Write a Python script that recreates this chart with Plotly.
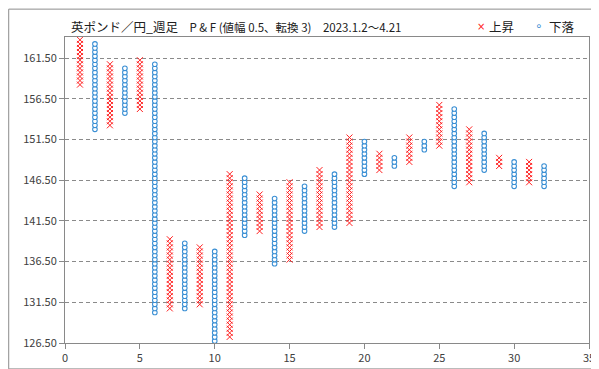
import numpy as np
import plotly.graph_objects as go

# Point & Figure columns (box 0.5, reversal 3)
col_index = list(range(1, 33))
col_type = ["X", "O"] * 16
col_low = [158.25, 152.75, 153.25, 154.75, 155.25, 130.25, 130.75, 130.75, 131.25, 126.75,
           127.25, 139.75, 140.25, 136.25, 136.75, 140.25, 140.75, 140.75, 141.25, 147.25,
           147.75, 148.25, 148.75, 150.25, 150.75, 145.75, 146.25, 147.75, 148.25, 145.75,
           146.25, 145.75]
col_high = [163.75, 163.25, 160.75, 160.25, 161.25, 160.75, 139.25, 138.75, 138.25, 137.75,
            147.25, 146.75, 144.75, 144.25, 146.25, 145.75, 147.75, 147.25, 151.75, 151.25,
            149.75, 149.25, 151.75, 151.25, 155.75, 155.25, 152.75, 152.25, 149.25, 148.75,
            148.75, 148.25]
box_size = 0.5
y_ticks = [126.5, 131.5, 136.5, 141.5, 146.5, 151.5, 156.5, 161.5]
x_ticks = [0, 5, 10, 15, 20, 25, 30, 35]

xs = {"X": [], "O": []}
ys = {"X": [], "O": []}
for c, t, lo, hi in zip(col_index, col_type, col_low, col_high):
    vals = np.arange(lo, hi + box_size / 2, box_size)
    xs[t].extend([c] * len(vals))
    ys[t].extend(vals.tolist())

RED = "#FF2020"
BLUE = "#3A8FD4"

fig = go.Figure()
fig.add_trace(go.Scatter(
    x=xs["X"], y=ys["X"], mode="markers", name="上昇",
    marker=dict(symbol="x-thin", size=6, line=dict(color=RED, width=1.0), color=RED),
    cliponaxis=True,
))
fig.add_trace(go.Scatter(
    x=xs["O"], y=ys["O"], mode="markers", name="下落",
    marker=dict(symbol="circle", size=4.6, color="white", line=dict(color=BLUE, width=1.1)),
    cliponaxis=True,
))

L, R, T, B = 57, 16, 29, 27
W, H = 599, 369
pw, ph = W - L - R, H - T - B


def px_to_paper_x(px):
    return (px - L) / pw


def px_to_paper_y(py):
    return (H - B - py) / ph


font_jp = "Noto Sans CJK JP, Noto Sans, sans-serif"
axis_color = "#898989"

fig.update_layout(
    width=W, height=H,
    margin=dict(l=L, r=R, t=T, b=B),
    paper_bgcolor="white", plot_bgcolor="white",
    showlegend=False,
    font=dict(family=font_jp, size=11, color="#404040"),
    xaxis=dict(
        range=[0, 35], tickvals=x_ticks, showgrid=False, zeroline=False,
        showline=True, linecolor=axis_color, linewidth=1, mirror=True,
        ticks="outside", ticklen=5, tickcolor=axis_color,
        tickfont=dict(size=11, color="#404040"),
    ),
    yaxis=dict(
        range=[126.5, 164.1], tickvals=y_ticks, tickformat=".2f",
        showgrid=True, gridcolor="#8a8a8a", griddash="4px,3px", gridwidth=1,
        zeroline=False, showline=True, linecolor=axis_color, linewidth=1, mirror=True,
        ticks="outside", ticklen=5, tickcolor=axis_color,
        tickfont=dict(size=11, color="#404040"),
    ),
)

annotations = [
    dict(text="<span style='font-size:12.5px'>英ポンド／円_週足</span>"
              "<span style='font-size:11.5px'>　P &amp; F (値幅 0.5、転換 3)　2023.1.2～4.21</span>",
         x=px_to_paper_x(61), y=px_to_paper_y(18), xref="paper", yref="paper",
         xanchor="left", yanchor="middle", showarrow=False,
         font=dict(family=font_jp, color="#202020")),
    dict(text="×", x=px_to_paper_x(474.5), y=px_to_paper_y(18), xref="paper", yref="paper",
         xanchor="center", yanchor="middle", showarrow=False,
         font=dict(family="DejaVu Sans", size=10, color=RED)),
    dict(text="上昇", x=px_to_paper_x(481), y=px_to_paper_y(18), xref="paper", yref="paper",
         xanchor="left", yanchor="middle", showarrow=False,
         font=dict(family=font_jp, size=12.5, color="#202020")),
    dict(text="∘", x=px_to_paper_x(533), y=px_to_paper_y(18), xref="paper", yref="paper",
         xanchor="center", yanchor="middle", showarrow=False,
         font=dict(family="DejaVu Sans", size=12, color=BLUE)),
    dict(text="下落", x=px_to_paper_x(541), y=px_to_paper_y(18), xref="paper", yref="paper",
         xanchor="left", yanchor="middle", showarrow=False,
         font=dict(family=font_jp, size=12.5, color="#202020")),
]
fig.update_layout(annotations=annotations)

fig.add_shape(type="rect", xref="paper", yref="paper",
              x0=px_to_paper_x(0.5), x1=px_to_paper_x(W - 0.5),
              y0=px_to_paper_y(H - 0.5), y1=px_to_paper_y(0.5),
              line=dict(color="#8c8c8c", width=1), fillcolor="rgba(0,0,0,0)", layer="below")

fig.write_html("out.html")
